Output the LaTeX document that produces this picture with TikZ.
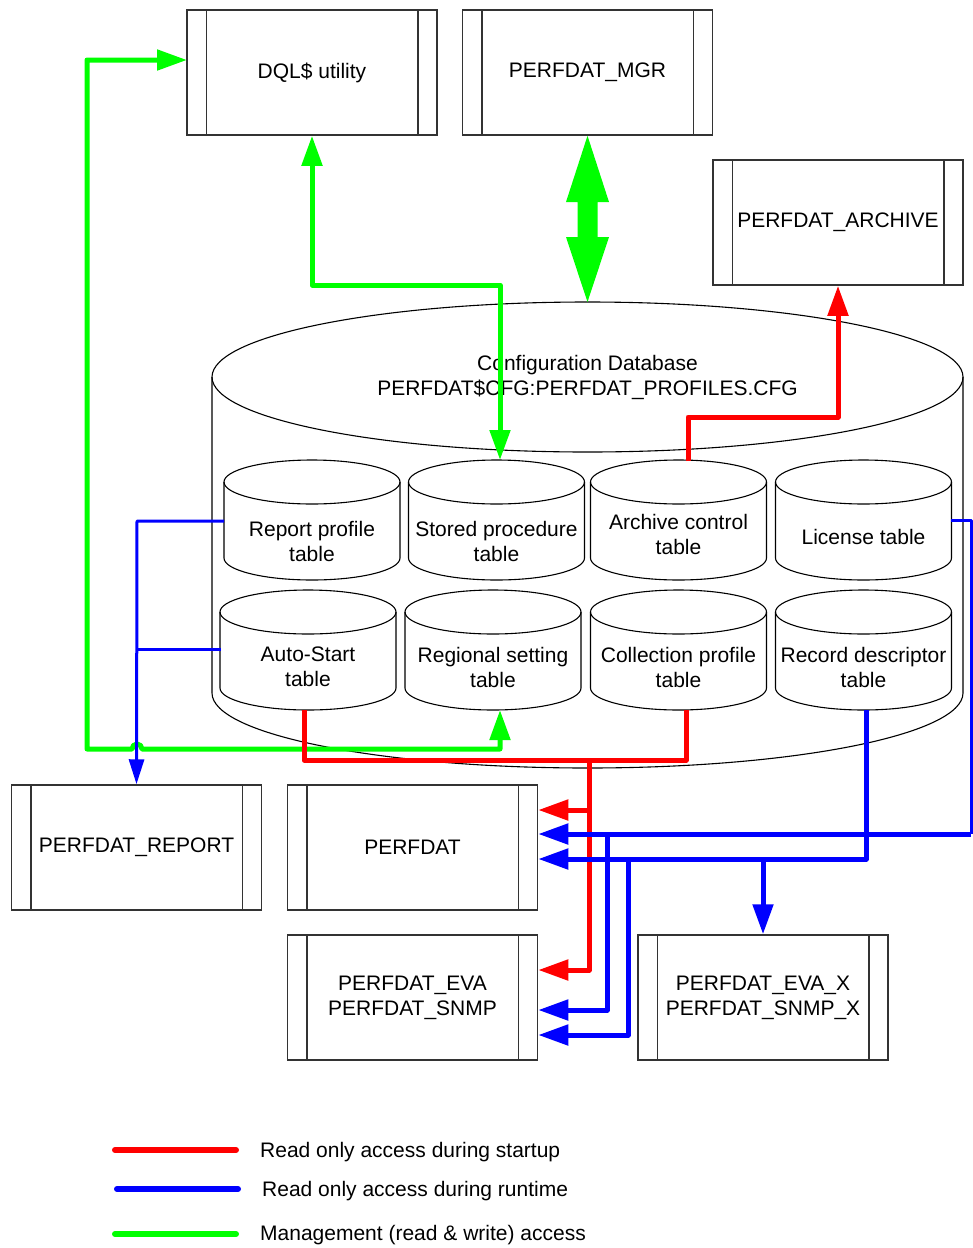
\documentclass[tikz,border=0pt]{standalone}
\usepackage{fontspec}
\setmainfont{Liberation Sans}
\usetikzlibrary{arrows.meta,calc}
\definecolor{boxc}{HTML}{333333}
\definecolor{gr}{HTML}{00FF00}
\definecolor{rd}{HTML}{FF0000}
\definecolor{bl}{HTML}{0000FF}
\tikzset{
  txt/.style={font=\fontsize{21pt}{25pt}\selectfont, align=center, inner sep=0pt},
  proc/.style={draw=boxc, line width=1.5pt, minimum width=250pt, minimum height=125pt, inner sep=0pt, txt},
  boxline/.style={draw=boxc, line width=1.5pt},
  cyl/.style={draw=black, line width=1.1pt},
  gline/.style={draw=gr, line width=5pt, line join=round},
  rline/.style={draw=rd, line width=5pt, line join=round},
  bline/.style={draw=bl, line width=5pt, line join=round},
  bthin/.style={draw=bl, line width=3pt, line join=round},
  bigtip/.tip={Triangle[length=30pt,width=20pt]},
  smalltip/.tip={Triangle[length=25pt,width=15pt]},
  legline/.style={line width=6pt, line cap=round},
}
\newcommand\tablecyl[3]{% cx, top center y, bottom center y
  \draw[cyl] (#1,#2) ellipse[x radius=88pt, y radius=22pt];
  \draw[cyl] ($(#1,#2)+(-88,0)$) -- ($(#1,#3)+(-88,0)$)
     arc[start angle=180, end angle=360, x radius=88pt, y radius=22pt]
     -- ($(#1,#2)+(88,0)$);
}
\begin{document}
\begin{tikzpicture}[x=1pt,y=-1pt]
\useasboundingbox (0,0) rectangle (973,1248);

% process boxes
\node[proc] (dql)  at (312,72.5)   {DQL\$ utility};
\node[proc] (mgr)  at (587.5,72.5) {PERFDAT\_MGR};
\node[proc] (arch) at (838,222.5)  {PERFDAT\_ARCHIVE};
\node[proc] (rep)  at (136.5,847.5) {PERFDAT\_REPORT};
\node[proc] (perf) at (412.5,847.5) {PERFDAT};
\node[proc] (eva)  at (412.5,997.5) {PERFDAT\_EVA\\PERFDAT\_SNMP};
\node[proc] (evax) at (763,997.5)  {PERFDAT\_EVA\_X\\PERFDAT\_SNMP\_X};
\foreach \n in {dql,mgr,arch,rep,perf,eva,evax}{
  \draw[boxline] ([xshift=20pt]\n.north west) -- ([xshift=20pt]\n.south west);
  \draw[boxline] ([xshift=-20pt]\n.north east) -- ([xshift=-20pt]\n.south east);
}

% configuration database cylinder
\draw[cyl] (587.5,377) ellipse[x radius=375.5pt, y radius=75pt];
\draw[cyl] (212,377) -- (212,693)
   arc[start angle=180, end angle=360, x radius=375.5pt, y radius=75pt] -- (963,377);
\node[txt] (cfg) at (587.5,377) {Configuration Database\\PERFDAT\$CFG:PERFDAT\_PROFILES.CFG};

% tables
\tablecyl{312}{482}{558}
\tablecyl{496.5}{482}{558}
\tablecyl{678.5}{482}{558}
\tablecyl{863.5}{482}{558}
\tablecyl{308}{612}{688}
\tablecyl{493}{612}{688}
\tablecyl{678.5}{612}{688}
\tablecyl{863.5}{612}{688}
\node[txt] (trep) at (312,541)   {Report profile\\table};
\node[txt] (tsto) at (496.5,541) {Stored procedure\\table};
\node[txt] (tarc) at (678.5,534) {Archive control\\table};
\node[txt] (tlic) at (863.5,537) {License table};
\node[txt] (taut) at (308,667)   {Auto-Start\\table};
\node[txt] (treg) at (493,667)   {Regional setting\\table};
\node[txt] (tcol) at (678.5,667) {Collection profile\\table};
\node[txt] (trec) at (863.5,667) {Record descriptor\\table};

% connection points on tables
\coordinate (stotop) at (500,460);
\coordinate (regbot) at (500,710);
\coordinate (arctop) at (688,461);
\coordinate (autbot) at (304,710);
\coordinate (colbot) at (686,710);
\coordinate (repw)   at (224,521);
\coordinate (autw)   at (221,649);
\coordinate (lice)   at (951,520);
\coordinate (recbot) at (866,710);
\coordinate (dqlin)  at (187,60);

% green connectors
\draw[gline, bigtip-bigtip] (dql.south) -- (312,285) -- (500,285) -- (stotop);
\draw[gline, bigtip-bigtip] (dqlin) -- (87,60) -- (87,749) -- (132,749)
   arc[start angle=180, end angle=0, radius=5pt] -- (500,749) -- (regbot);
\fill[gr] (mgr.south) -- (609,202) -- (597.5,202) -- (597.5,237) -- (609,237)
   -- (587.5,302) -- (566,237) -- (577.5,237) -- (577.5,202) -- (566,202) -- cycle;

% red connectors
\draw[rline, -bigtip] (arctop) -- (688,417) -- (838,417) -- (arch.south);
\draw[rline] (autbot) -- (304,760) -- (686,760) -- (colbot);
\draw[rline, -bigtip] (589,760) -- (589,970) -- (eva.east |- 0,970);
\draw[rline, -bigtip] (589,810) -- (perf.east |- 0,810);

% blue connectors
\draw[bthin, -smalltip] (repw) -- (137,521) -- (rep.north);
\draw[bthin] (autw) -- (137,649);
\draw[bthin] (lice) -- (971,520) -- (971,834);
\draw[bline, -bigtip] (971,834) -- (perf.east |- 0,834);
\draw[bline, -bigtip] (607,834) -- (607,1010) -- (eva.east |- 0,1010);
\draw[bline, -bigtip] (recbot) -- (866,859) -- (perf.east |- 0,859);
\draw[bline, -bigtip] (628,859) -- (628,1035) -- (eva.east |- 0,1035);
\draw[bline, -bigtip] (763,859) -- (evax.north);

% legend
\draw[legline, rd] (115,1150) -- (236,1150);
\draw[legline, bl] (117,1189) -- (238,1189);
\draw[legline, gr] (115,1234) -- (236,1234);
\node[txt, anchor=west] (l1) at (260,1152) {Read only access during startup};
\node[txt, anchor=west] (l2) at (262,1191) {Read only access during runtime};
\node[txt, anchor=west] (l3) at (260,1235) {Management (read \& write) access};
\end{tikzpicture}
\end{document}
